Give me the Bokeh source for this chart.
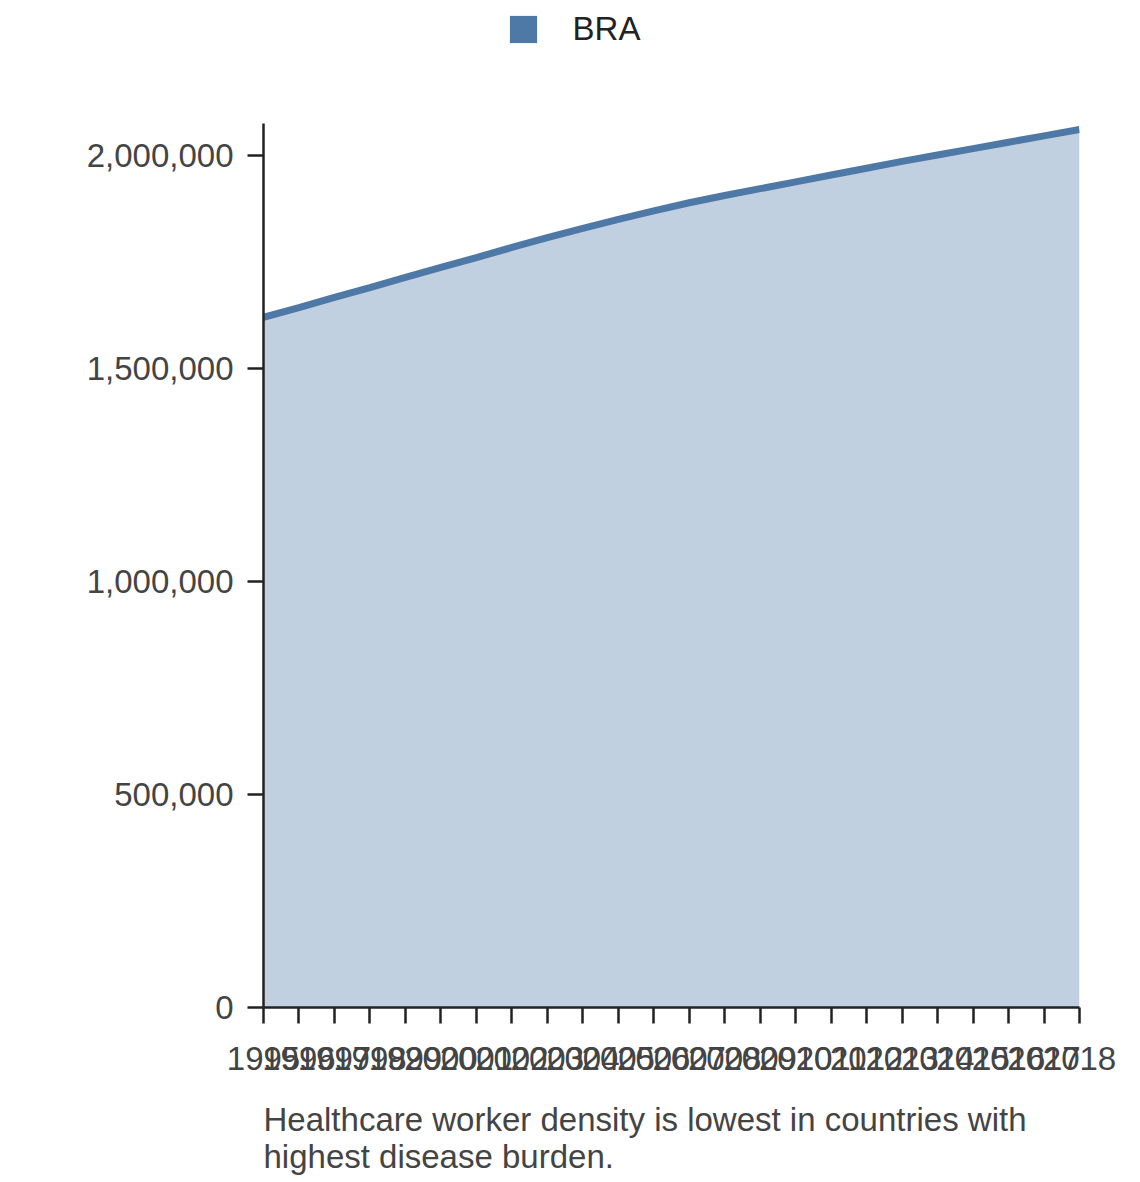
from bokeh.plotting import figure
from bokeh.layouts import column
from bokeh.models import (Range1d, FixedTicker, NumeralTickFormatter, Legend, LegendItem,
                          ColumnDataSource, Label)
from bokeh.embed import file_html
from bokeh.resources import INLINE

years = list(range(1995, 2019))
values = [1620000, 1643000, 1667000, 1690000, 1714000, 1737000, 1760000, 1784000,
          1807000, 1829000, 1850000, 1870000, 1889000, 1906000, 1922000, 1938000,
          1954000, 1970000, 1986000, 2001000, 2016000, 2031000, 2046000, 2061000]
y_ticks = [0, 500000, 1000000, 1500000, 2000000]
series_name = "BRA"
caption = "Healthcare worker density is lowest in countries with\nhighest disease burden."

COLOR = "#4e79a7"
FONT = "Liberation Sans"
FS = "33px"
W = 1130


def strip(height):
    f = figure(width=W, height=height, output_backend="svg", toolbar_location=None,
               x_range=Range1d(0, 1), y_range=Range1d(0, 1),
               x_axis_location=None, y_axis_location=None, min_border=0)
    f.outline_line_color = None
    f.xgrid.visible = False
    f.ygrid.visible = False
    return f


# ---- legend strip ----
pl = strip(60)
swatch = pl.quad(left=[0], right=[0], top=[0], bottom=[0], fill_color=COLOR,
                 line_color=None, visible=False)
legend = Legend(items=[LegendItem(label=series_name, renderers=[swatch])],
                location=(242.6, 12.5), padding=0, margin=0, spacing=0, border_line_color=None,
                background_fill_alpha=0, glyph_width=34, glyph_height=34,
                label_standoff=33, label_text_font=FONT, label_text_font_size=FS,
                label_text_color="#222222", label_text_baseline="middle")
pl.add_layout(legend, "center")

# ---- main chart ----
p = figure(width=W, height=1031, output_backend="svg", toolbar_location=None,
           x_range=Range1d(years[0], years[-1]), y_range=Range1d(0, 2075000),
           min_border_left=263, min_border_right=51, min_border_top=63, min_border_bottom=84)
p.outline_line_color = None
p.xgrid.visible = False
p.ygrid.visible = False

src = ColumnDataSource(dict(x=years, y=values, z=[0] * len(years)))
p.varea(x="x", y1="z", y2="y", source=src, fill_color=COLOR, fill_alpha=0.35)
p.line(x="x", y="y", source=src, line_color=COLOR, line_width=7)

for ax in (p.xaxis[0], p.yaxis[0]):
    ax.axis_line_color = "#222222"
    ax.axis_line_width = 2.5
    ax.major_tick_line_color = "#222222"
    ax.major_tick_line_width = 2.5
    ax.major_tick_out = 16
    ax.major_tick_in = 0
    ax.minor_tick_line_color = None
    ax.major_label_text_font = FONT
    ax.major_label_text_font_size = FS
    ax.major_label_text_color = "#444444"

p.xaxis.ticker = FixedTicker(ticks=years)
p.xaxis.major_label_standoff = 23
p.yaxis.ticker = FixedTicker(ticks=y_ticks)
p.yaxis.formatter = NumeralTickFormatter(format="0,0")
p.yaxis.major_label_standoff = 14

# ---- caption strip ----
pc = strip(89)
pc.add_layout(Label(x=0, y=80, x_units="screen", y_units="screen", text=caption,
                    text_font=FONT, text_font_size=FS, text_color="#444444",
                    text_baseline="top", text_align="left", text_line_height=1.01))

layout = column(pl, p, pc, spacing=0)
open("out.html", "w").write(file_html(layout, INLINE))
